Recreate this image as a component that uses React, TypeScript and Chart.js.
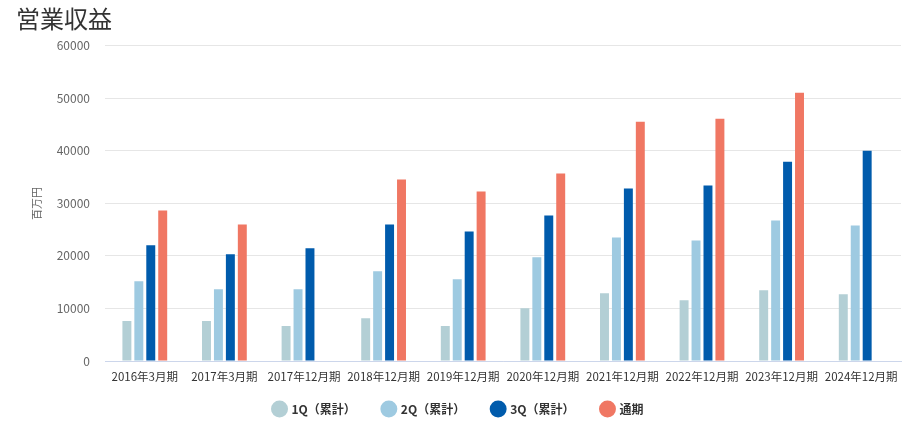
import React, { useEffect, useRef } from "react";
import { Chart, registerables } from "chart.js";

Chart.register(...registerables);

const categories = [
  "2016年3月期",
  "2017年3月期",
  "2017年12月期",
  "2018年12月期",
  "2019年12月期",
  "2020年12月期",
  "2021年12月期",
  "2022年12月期",
  "2023年12月期",
  "2024年12月期",
];
const q1Values = [7600, 7600, 6640, 8160, 6640, 10060, 12900, 11570, 13470, 12710];
const q2Values = [15180, 13660, 13660, 17080, 15560, 19730, 23530, 22960, 26760, 25810];
const q3Values = [22010, 20300, 21440, 26000, 24670, 27700, 32830, 33400, 37950, 40040];
const fyValues = [28650, 26000, null, 34540, 32260, 35670, 45540, 46110, 51040, null];
const seriesNames = ["1Q（累計）", "2Q（累計）", "3Q（累計）", "通期"];
const seriesColors = ["#b3cfd5", "#9ecae1", "#005bac", "#f07763"];
const yTicks = [0, 10000, 20000, 30000, 40000, 50000, 60000];

const FONT = '"Noto Sans CJK JP", "Noto Sans", sans-serif';

const legendShift = {
  id: "legendShift",
  afterLayout(chart: any) {
    const lg = chart.legend;
    if (lg) {
      lg.top -= 9;
      lg.bottom -= 9;
    }
  },
};

export default function App() {
  const ref = useRef<HTMLCanvasElement | null>(null);
  useEffect(() => {
    document.body.style.margin = "0";
    const canvas = ref.current;
    if (!canvas) return;
    const values = [q1Values, q2Values, q3Values, fyValues];
    const chart = new Chart(canvas, {
      type: "bar",
      data: {
        labels: categories,
        datasets: values.map((v, i) => ({
          label: seriesNames[i],
          data: v,
          backgroundColor: seriesColors[i],
          borderWidth: 0,
          categoryPercentage: 0.6,
          barPercentage: 0.75,
        })),
      },
      plugins: [legendShift],
      options: {
        animation: false,
        responsive: false,
        maintainAspectRatio: false,
        layout: { padding: { left: 16, right: 12, top: 0, bottom: -13 } },
        plugins: {
          title: {
            display: true,
            text: "営業収益",
            align: "start",
            color: "#333333",
            font: { family: FONT, size: 24, weight: "normal" },
            padding: { top: 4, bottom: 13 },
          },
          legend: {
            position: "bottom",
            labels: {
              usePointStyle: true,
              pointStyle: "circle",
              boxWidth: 12,
              boxHeight: 12,
              padding: 27,
              color: "#333333",
              font: { family: FONT, size: 12, weight: "bold" },
            },
          },
          tooltip: { enabled: false },
        },
        scales: {
          x: {
            afterFit: (scale: any) => {
              scale.height = 24;
            },
            grid: { display: false, drawTicks: false },
            border: { display: true, color: "#ccd6eb", width: 1 },
            ticks: {
              color: "#333333",
              padding: 9,
              maxRotation: 0,
              autoSkip: false,
              font: { family: FONT, size: 11.5 },
            },
          },
          y: {
            min: 0,
            max: 60000,
            afterBuildTicks: (scale: any) => {
              scale.ticks = yTicks.map((v) => ({ value: v }));
            },
            afterFit: (scale: any) => {
              scale.width = 89;
            },
            grid: { color: "#e6e6e6", drawTicks: false },
            border: { display: false },
            ticks: {
              color: "#666666",
              padding: 15,
              font: { family: FONT, size: 12 },
              callback: (v: any) => String(v),
            },
            title: {
              display: true,
              text: "百万円",
              color: "#666666",
              font: { family: FONT, size: 11 },
              padding: { top: 14, bottom: 0 },
            },
          },
        },
      },
    });
    return () => chart.destroy();
  }, []);
  return (
    <div style={{ position: "fixed", left: 0, top: 0, width: 913, height: 421 }}>
      <canvas ref={ref} width={913} height={421} style={{ width: 913, height: 421 }} />
    </div>
  );
}
